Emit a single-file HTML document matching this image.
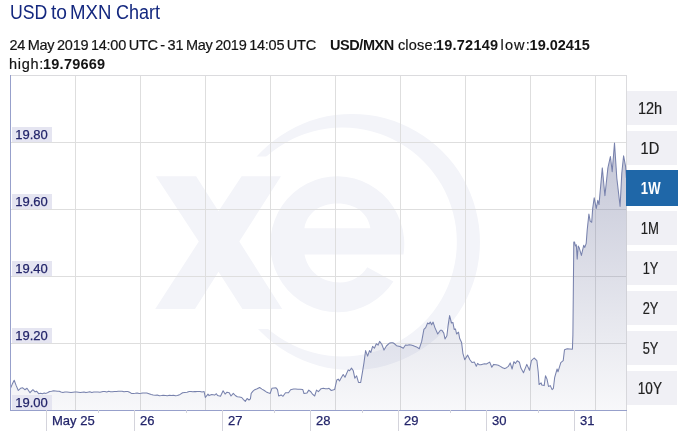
<!DOCTYPE html>
<html><head><meta charset="utf-8"><title>USD to MXN Chart</title>
<style>
html,body{margin:0;padding:0;background:#fff;}
body{width:684px;height:435px;position:relative;overflow:hidden;font-family:"Liberation Sans",sans-serif;}
h1{position:absolute;left:10px;top:0px;margin:0;font-weight:normal;font-size:19.4px;line-height:24px;color:#14287f;white-space:nowrap;}
.info{position:absolute;left:0;top:36px;width:684px;font-size:14.5px;line-height:18.7px;color:#141414;}
.info span,.info b{position:absolute;white-space:pre;}
.info b{font-weight:bold;}
h1 span{position:absolute;top:0;transform-origin:0 50%;}
svg{position:absolute;left:0;top:0;}
.yl,.xl{-webkit-text-stroke:0.25px #23256a;}
.info span,.btn span{-webkit-text-stroke:0.2px #141414;}
.btn.sel span{-webkit-text-stroke:0;}
.yl{position:absolute;left:12px;width:40px;height:15px;background:#e5e5f1;color:#23256a;font-size:13px;line-height:15px;text-indent:3.2px;white-space:nowrap;}
.xl{position:absolute;top:412.5px;color:#23256a;font-size:13px;line-height:16px;white-space:nowrap;}
.btn{position:absolute;left:627px;width:50px;height:33.7px;background:#f0f0f5;color:#1f1f1f;font-size:15.6px;line-height:36.4px;text-align:center;text-indent:-3.4px;}
.btn span{display:inline-block;text-indent:0;}
.btn.sel{background:#1f67a8;color:#fff;font-weight:bold;box-shadow:0 0 0 1px #1f67a8;}
</style></head><body>
<h1><span style="left:-0.5px;transform:scaleX(0.913)">USD</span> <span style="left:41px;transform:scaleX(0.99)">to</span> <span style="left:60.2px;transform:scaleX(0.959)">MXN</span> <span style="left:105.5px;transform:scaleX(0.93)">Chart</span></h1>
<div class="info">
<span style="left:9.4px;top:0;letter-spacing:-0.24px;word-spacing:-1.15px">24 May 2019 14:00 UTC - 31 May 2019 14:05 UTC</span>
<b style="left:330px;top:0;letter-spacing:-0.42px">USD/MXN</b>
<span style="left:397.9px;top:0;letter-spacing:0.18px">close:</span>
<b style="left:435.8px;top:0;letter-spacing:0.27px">19.72149</b>
<span style="left:500.6px;top:0;letter-spacing:1.1px">low:</span>
<b style="left:529.6px;top:0;letter-spacing:-0.03px">19.02415</b>
<span style="left:9.1px;top:18.7px;letter-spacing:0.7px">high:</span>
<b style="left:43px;top:18.7px;letter-spacing:0.24px">19.79669</b>
</div>
<svg width="684" height="435" viewBox="0 0 684 435">
<defs><linearGradient id="g" x1="0" y1="140" x2="0" y2="410" gradientUnits="userSpaceOnUse">
<stop offset="0" stop-color="#6a7099" stop-opacity="0.40"/><stop offset="1" stop-color="#6a7099" stop-opacity="0.05"/></linearGradient>
<clipPath id="wc"><path clip-rule="evenodd" d="M0,0 H684 V435 H0 Z M200,156.5 H300 V329 H200 Z"/></clipPath>
</defs>
<g id="wm" fill="#f3f4f9">
<path clip-path="url(#wc)" fill-rule="evenodd" d="M352,114 A128,128 0 1 1 351.9,114 Z M342.4,127.6 A114.4,114.4 0 1 0 342.5,127.6 Z"/>
<path d="M155.9,176.3 L196.1,176.3 L218.5,211.2 L241.6,176.3 L281,176.3 L239.3,241.5 L282.2,309 L242.4,309 L218.5,271.8 L195,309 L155.2,309 L198.8,241.5 Z"/>
<path fill-rule="evenodd" d="M403.5,254.6 L304.5,254.6 C308,272 322,282.5 340,282.5 C351,282.5 361,277 367.3,267.3 L393.4,281.4 A67,68 0 1 1 403.5,254.6 Z M304.4,228.2 L370.4,228.2 C368,213 355,203.6 337.4,203.6 C320,203.6 307,213 304.4,228.2 Z"/>
</g>
<g stroke="#dedede" stroke-width="1" shape-rendering="crispEdges"><line x1="75.5" y1="75" x2="75.5" y2="410"/><line x1="140.5" y1="75" x2="140.5" y2="410"/><line x1="205.5" y1="75" x2="205.5" y2="410"/><line x1="270.5" y1="75" x2="270.5" y2="410"/><line x1="335.5" y1="75" x2="335.5" y2="410"/><line x1="400.5" y1="75" x2="400.5" y2="410"/><line x1="465.5" y1="75" x2="465.5" y2="410"/><line x1="530.5" y1="75" x2="530.5" y2="410"/><line x1="595.5" y1="75" x2="595.5" y2="410"/><line x1="10" y1="142.5" x2="626" y2="142.5"/><line x1="10" y1="209.5" x2="626" y2="209.5"/><line x1="10" y1="276.5" x2="626" y2="276.5"/><line x1="10" y1="343.5" x2="626" y2="343.5"/></g>
<g stroke="#dbdbde" stroke-width="1" shape-rendering="crispEdges"><line x1="10" y1="75.5" x2="627" y2="75.5"/><line x1="626.5" y1="75" x2="626.5" y2="431"/></g>
<path d="M10.5,388.3 L12.3,384.1 L14.2,380.2 L16.1,385.4 L18.3,390.5 L20.5,388.3 L22.7,387.8 L24.9,389.7 L27.0,388.3 L30.0,392.7 L32.9,389.7 L35.1,391.9 L36.5,391.2 L38.7,393.7 L40.5,393.3 L42.4,393.7 L44.2,393.1 L46.0,393.4 L47.9,392.5 L49.7,391.5 L51.6,391.2 L53.6,390.7 L55.5,390.9 L57.4,391.3 L59.2,391.2 L61.0,392.0 L62.9,392.4 L64.9,392.0 L66.9,392.0 L69.0,392.2 L71.0,392.5 L73.0,392.2 L74.8,391.9 L76.7,392.0 L78.5,392.3 L80.3,392.6 L82.2,392.3 L84.0,392.1 L85.9,392.6 L87.7,392.2 L89.8,391.8 L91.8,392.5 L93.8,392.0 L95.9,391.9 L98.0,391.9 L100.0,392.2 L103.0,391.6 L104.9,391.4 L106.8,391.9 L108.7,391.3 L110.6,391.7 L112.5,391.7 L114.4,391.5 L116.4,391.6 L118.3,391.2 L120.2,391.2 L122.1,391.3 L124.0,391.8 L125.9,391.5 L127.8,391.6 L129.6,392.3 L131.4,393.4 L133.3,393.4 L135.2,393.3 L137.2,393.1 L139.1,393.5 L141.0,393.3 L143.0,392.9 L144.9,393.1 L146.8,393.0 L149.0,393.8 L151.2,394.6 L153.2,395.1 L155.3,395.2 L157.3,395.0 L159.4,395.8 L161.4,395.6 L163.4,395.3 L165.4,395.5 L167.4,395.8 L169.4,395.3 L171.5,395.6 L173.5,395.2 L175.5,395.8 L177.5,395.6 L180.1,394.4 L182.6,392.7 L184.8,392.4 L187.0,392.3 L189.2,391.6 L191.0,391.4 L192.8,391.7 L194.6,391.6 L196.4,391.6 L198.2,391.5 L200.0,391.5 L202.1,391.9 L204.1,391.6 L205.3,397.5 L208.0,394.1 L209.1,395.6 L211.7,394.6 L214.6,395.1 L216.4,393.7 L217.5,395.6 L220.5,396.3 L223.1,390.8 L225.1,394.1 L227.0,392.2 L229.2,392.7 L231.0,396.0 L233.3,393.4 L235.3,395.5 L237.3,396.8 L239.5,397.1 L241.7,397.5 L243.5,399.6 L245.3,401.4 L247.1,398.5 L249.0,400.0 L250.4,398.9 L251.2,393.4 L253.0,391.2 L254.8,389.7 L257.2,388.8 L259.6,387.5 L262.0,389.1 L264.3,390.5 L266.3,391.9 L268.2,392.7 L270.2,393.4 L271.9,388.3 L273.9,387.9 L276.0,387.8 L277.5,389.7 L278.7,396.0 L281.1,394.9 L283.0,396.3 L285.5,392.7 L288.5,392.7 L290.6,389.7 L293.6,389.0 L295.7,389.0 L297.9,389.3 L300.0,389.2 L302.8,389.6 L304.0,393.5 L307.0,392.9 L308.8,390.1 L311.0,392.0 L312.5,394.2 L314.7,396.0 L316.5,390.1 L318.4,391.6 L321.1,388.7 L323.3,388.3 L325.4,388.7 L327.6,388.7 L329.0,388.3 L331.3,390.5 L334.6,389.6 L336.8,380.0 L338.2,379.1 L339.5,381.0 L341.4,377.5 L343.2,374.5 L345.0,377.3 L348.2,369.9 L349.6,370.8 L351.5,368.1 L353.3,370.8 L354.8,378.2 L356.6,375.8 L358.5,382.4 L360.7,382.4 L362.5,371.8 L364.0,362.6 L365.6,350.6 L367.6,356.1 L369.5,350.6 L370.8,352.5 L372.6,346.4 L374.4,348.2 L376.3,343.8 L378.1,345.1 L379.6,341.4 L381.8,344.2 L384.0,350.1 L386.4,346.0 L389.2,343.3 L391.0,342.7 L392.8,342.7 L394.6,343.8 L396.5,345.7 L400.0,346.5 L403.3,348.2 L405.5,345.0 L407.3,345.2 L409.2,344.7 L411.0,345.0 L412.8,345.4 L414.7,346.2 L416.5,346.9 L419.3,348.7 L421.7,341.4 L423.9,329.4 L425.7,327.6 L427.6,323.0 L429.0,323.9 L430.3,322.1 L431.6,324.8 L433.1,322.1 L434.9,327.6 L437.7,334.0 L440.4,330.3 L441.9,330.3 L443.8,333.1 L445.0,339.0 L446.9,335.8 L448.2,324.8 L449.6,315.6 L451.5,323.0 L452.9,322.4 L454.2,329.4 L455.5,329.0 L456.6,334.0 L458.5,332.2 L459.7,338.6 L461.6,342.6 L462.9,353.3 L464.7,359.7 L467.6,355.1 L469.9,359.7 L472.0,362.5 L474.4,362.1 L476.3,366.2 L477.6,363.4 L479.0,364.7 L480.9,364.8 L482.7,364.3 L484.5,363.8 L486.4,364.0 L489.7,362.1 L491.8,367.2 L493.7,364.4 L496.0,364.8 L498.3,365.3 L500.4,366.4 L502.6,367.8 L504.7,368.6 L506.5,367.7 L508.4,366.3 L510.2,362.9 L512.1,369.0 L513.9,361.7 L515.4,363.5 L517.2,360.7 L519.4,362.2 L520.9,368.1 L523.5,372.7 L526.8,364.4 L529.5,370.3 L531.4,360.7 L534.1,358.0 L536.9,360.7 L538.2,371.8 L539.1,384.6 L541.1,382.8 L541.8,385.0 L544.2,385.6 L545.5,375.8 L547.0,379.1 L548.5,386.5 L550.3,385.6 L552.1,389.6 L553.4,388.3 L554.7,377.3 L557.1,369.0 L558.0,371.8 L560.8,362.6 L563.2,360.7 L564.5,349.7 L567.2,348.8 L572.4,349.3 L572.9,335.0 L573.8,241.9 L574.5,241.9 L575.4,246.0 L576.3,244.7 L577.2,259.1 L578.2,246.0 L579.3,248.1 L581.4,255.4 L583.7,245.3 L584.8,247.4 L586.2,243.3 L587.2,230.0 L588.9,214.0 L590.2,221.1 L591.7,222.3 L592.7,208.4 L594.2,197.8 L596.3,208.4 L597.8,200.3 L599.0,204.6 L602.3,167.9 L604.9,195.8 L607.9,167.9 L610.4,156.5 L612.2,171.7 L614.5,143.1 L616.8,178.0 L620.1,206.4 L621.8,173.0 L623.6,155.8 L625.6,166.6 L626.4,178.0 L626.5,410.5 L10.5,410.5 Z" fill="url(#g)"/>
<path d="M10.5,388.3 L12.3,384.1 L14.2,380.2 L16.1,385.4 L18.3,390.5 L20.5,388.3 L22.7,387.8 L24.9,389.7 L27.0,388.3 L30.0,392.7 L32.9,389.7 L35.1,391.9 L36.5,391.2 L38.7,393.7 L40.5,393.3 L42.4,393.7 L44.2,393.1 L46.0,393.4 L47.9,392.5 L49.7,391.5 L51.6,391.2 L53.6,390.7 L55.5,390.9 L57.4,391.3 L59.2,391.2 L61.0,392.0 L62.9,392.4 L64.9,392.0 L66.9,392.0 L69.0,392.2 L71.0,392.5 L73.0,392.2 L74.8,391.9 L76.7,392.0 L78.5,392.3 L80.3,392.6 L82.2,392.3 L84.0,392.1 L85.9,392.6 L87.7,392.2 L89.8,391.8 L91.8,392.5 L93.8,392.0 L95.9,391.9 L98.0,391.9 L100.0,392.2 L103.0,391.6 L104.9,391.4 L106.8,391.9 L108.7,391.3 L110.6,391.7 L112.5,391.7 L114.4,391.5 L116.4,391.6 L118.3,391.2 L120.2,391.2 L122.1,391.3 L124.0,391.8 L125.9,391.5 L127.8,391.6 L129.6,392.3 L131.4,393.4 L133.3,393.4 L135.2,393.3 L137.2,393.1 L139.1,393.5 L141.0,393.3 L143.0,392.9 L144.9,393.1 L146.8,393.0 L149.0,393.8 L151.2,394.6 L153.2,395.1 L155.3,395.2 L157.3,395.0 L159.4,395.8 L161.4,395.6 L163.4,395.3 L165.4,395.5 L167.4,395.8 L169.4,395.3 L171.5,395.6 L173.5,395.2 L175.5,395.8 L177.5,395.6 L180.1,394.4 L182.6,392.7 L184.8,392.4 L187.0,392.3 L189.2,391.6 L191.0,391.4 L192.8,391.7 L194.6,391.6 L196.4,391.6 L198.2,391.5 L200.0,391.5 L202.1,391.9 L204.1,391.6 L205.3,397.5 L208.0,394.1 L209.1,395.6 L211.7,394.6 L214.6,395.1 L216.4,393.7 L217.5,395.6 L220.5,396.3 L223.1,390.8 L225.1,394.1 L227.0,392.2 L229.2,392.7 L231.0,396.0 L233.3,393.4 L235.3,395.5 L237.3,396.8 L239.5,397.1 L241.7,397.5 L243.5,399.6 L245.3,401.4 L247.1,398.5 L249.0,400.0 L250.4,398.9 L251.2,393.4 L253.0,391.2 L254.8,389.7 L257.2,388.8 L259.6,387.5 L262.0,389.1 L264.3,390.5 L266.3,391.9 L268.2,392.7 L270.2,393.4 L271.9,388.3 L273.9,387.9 L276.0,387.8 L277.5,389.7 L278.7,396.0 L281.1,394.9 L283.0,396.3 L285.5,392.7 L288.5,392.7 L290.6,389.7 L293.6,389.0 L295.7,389.0 L297.9,389.3 L300.0,389.2 L302.8,389.6 L304.0,393.5 L307.0,392.9 L308.8,390.1 L311.0,392.0 L312.5,394.2 L314.7,396.0 L316.5,390.1 L318.4,391.6 L321.1,388.7 L323.3,388.3 L325.4,388.7 L327.6,388.7 L329.0,388.3 L331.3,390.5 L334.6,389.6 L336.8,380.0 L338.2,379.1 L339.5,381.0 L341.4,377.5 L343.2,374.5 L345.0,377.3 L348.2,369.9 L349.6,370.8 L351.5,368.1 L353.3,370.8 L354.8,378.2 L356.6,375.8 L358.5,382.4 L360.7,382.4 L362.5,371.8 L364.0,362.6 L365.6,350.6 L367.6,356.1 L369.5,350.6 L370.8,352.5 L372.6,346.4 L374.4,348.2 L376.3,343.8 L378.1,345.1 L379.6,341.4 L381.8,344.2 L384.0,350.1 L386.4,346.0 L389.2,343.3 L391.0,342.7 L392.8,342.7 L394.6,343.8 L396.5,345.7 L400.0,346.5 L403.3,348.2 L405.5,345.0 L407.3,345.2 L409.2,344.7 L411.0,345.0 L412.8,345.4 L414.7,346.2 L416.5,346.9 L419.3,348.7 L421.7,341.4 L423.9,329.4 L425.7,327.6 L427.6,323.0 L429.0,323.9 L430.3,322.1 L431.6,324.8 L433.1,322.1 L434.9,327.6 L437.7,334.0 L440.4,330.3 L441.9,330.3 L443.8,333.1 L445.0,339.0 L446.9,335.8 L448.2,324.8 L449.6,315.6 L451.5,323.0 L452.9,322.4 L454.2,329.4 L455.5,329.0 L456.6,334.0 L458.5,332.2 L459.7,338.6 L461.6,342.6 L462.9,353.3 L464.7,359.7 L467.6,355.1 L469.9,359.7 L472.0,362.5 L474.4,362.1 L476.3,366.2 L477.6,363.4 L479.0,364.7 L480.9,364.8 L482.7,364.3 L484.5,363.8 L486.4,364.0 L489.7,362.1 L491.8,367.2 L493.7,364.4 L496.0,364.8 L498.3,365.3 L500.4,366.4 L502.6,367.8 L504.7,368.6 L506.5,367.7 L508.4,366.3 L510.2,362.9 L512.1,369.0 L513.9,361.7 L515.4,363.5 L517.2,360.7 L519.4,362.2 L520.9,368.1 L523.5,372.7 L526.8,364.4 L529.5,370.3 L531.4,360.7 L534.1,358.0 L536.9,360.7 L538.2,371.8 L539.1,384.6 L541.1,382.8 L541.8,385.0 L544.2,385.6 L545.5,375.8 L547.0,379.1 L548.5,386.5 L550.3,385.6 L552.1,389.6 L553.4,388.3 L554.7,377.3 L557.1,369.0 L558.0,371.8 L560.8,362.6 L563.2,360.7 L564.5,349.7 L567.2,348.8 L572.4,349.3 L572.9,335.0 L573.8,241.9 L574.5,241.9 L575.4,246.0 L576.3,244.7 L577.2,259.1 L578.2,246.0 L579.3,248.1 L581.4,255.4 L583.7,245.3 L584.8,247.4 L586.2,243.3 L587.2,230.0 L588.9,214.0 L590.2,221.1 L591.7,222.3 L592.7,208.4 L594.2,197.8 L596.3,208.4 L597.8,200.3 L599.0,204.6 L602.3,167.9 L604.9,195.8 L607.9,167.9 L610.4,156.5 L612.2,171.7 L614.5,143.1 L616.8,178.0 L620.1,206.4 L621.8,173.0 L623.6,155.8 L625.6,166.6 L626.4,178.0" fill="none" stroke="#7882ad" stroke-width="1.05" stroke-linejoin="round"/>
<g stroke="#97a0cb" stroke-width="1" shape-rendering="crispEdges"><line x1="10.5" y1="75" x2="10.5" y2="411"/><line x1="10" y1="410.5" x2="627" y2="410.5"/></g>
<g stroke="#d4d4dc" stroke-width="1" shape-rendering="crispEdges"><line x1="46.5" y1="410" x2="46.5" y2="431"/><line x1="134.5" y1="410" x2="134.5" y2="431"/><line x1="222.5" y1="410" x2="222.5" y2="431"/><line x1="310.5" y1="410" x2="310.5" y2="431"/><line x1="398.5" y1="410" x2="398.5" y2="431"/><line x1="486.5" y1="410" x2="486.5" y2="431"/><line x1="574.5" y1="410" x2="574.5" y2="431"/><line x1="98.5" y1="410" x2="98.5" y2="413"/><line x1="186.5" y1="410" x2="186.5" y2="413"/><line x1="274.5" y1="410" x2="274.5" y2="413"/><line x1="362.5" y1="410" x2="362.5" y2="413"/><line x1="450.5" y1="410" x2="450.5" y2="413"/><line x1="538.5" y1="410" x2="538.5" y2="413"/></g>
</svg>
<div class="yl" style="top:127px">19.80</div><div class="yl" style="top:194px">19.60</div><div class="yl" style="top:261px">19.40</div><div class="yl" style="top:328px">19.20</div><div class="yl" style="top:395px">19.00</div>
<div class="xl" style="left:52px">May 25</div><div class="xl" style="left:140px">26</div><div class="xl" style="left:228px">27</div><div class="xl" style="left:316px">28</div><div class="xl" style="left:404px">29</div><div class="xl" style="left:492px">30</div><div class="xl" style="left:580px">31</div>
<div class="btn" style="top:91.0px"><span style="transform:scaleX(0.93)">12h</span></div><div class="btn" style="top:131.0px"><span style="transform:scaleX(0.94)">1D</span></div><div class="btn sel" style="top:171.0px"><span style="transform:scaleX(0.84)">1W</span></div><div class="btn" style="top:211.0px"><span style="transform:scaleX(0.84)">1M</span></div><div class="btn" style="top:251.0px"><span style="transform:scaleX(0.82)">1Y</span></div><div class="btn" style="top:291.0px"><span style="transform:scaleX(0.82)">2Y</span></div><div class="btn" style="top:331.0px"><span style="transform:scaleX(0.82)">5Y</span></div><div class="btn" style="top:371.0px"><span style="transform:scaleX(0.87)">10Y</span></div>
</body></html>
